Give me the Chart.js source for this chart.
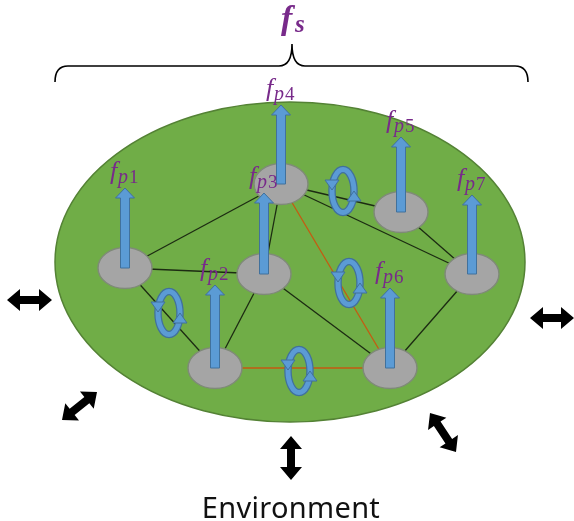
<!DOCTYPE html>
<html>
<head>
<meta charset="utf-8">
<script src="https://cdn.jsdelivr.net/npm/chart.js@4/dist/chart.umd.min.js"></script>
<style>
html, body { margin: 0; padding: 0; background: #fff; }
canvas { display: block; }
</style>
</head>
<body>
<canvas id="diagram" width="574" height="521"></canvas>
<script>
// node centres, in the 574 x 521 frame of the figure
let nodeX = [125, 215, 264, 281, 401, 390, 472];
let nodeY = [268, 368, 274, 184, 212, 368, 274];
// top of the force arrow standing on each node
let arrowTip = [188, 285, 193, 105, 137, 288, 195];
let arrowLabels = ['1', '2', '3', '4', '5', '6', '7'];
// links, as pairs of node indices
let blackLinks = [[0, 3], [0, 2], [0, 1], [2, 1], [2, 3], [2, 5], [3, 4], [3, 6], [4, 6], [6, 5]];
let redLinks = [[3, 5], [1, 5]];
// rotation rings
let ringX = [169, 343, 349, 299];
let ringY = [313, 191, 283, 371];
// system ellipse: cx, cy, rx, ry
let system = [290, 262, 235, 160];
// brace over the system: left, right, peak
let brace = [55, 528, 292];
// exchange with the environment (double arrows)
let envFrom = [[7, 300], [530, 318], [62, 420], [291, 436], [430, 413]];
let envTo = [[52, 300], [574, 318], [97, 392], [291, 480], [456, 452]];
let envLabel = 'Environment';

const purple = '#782a8a';

function linkSet(pairs, colour) {
    return pairs.map(([a, b]) => ({
        data: [{ x: nodeX[a], y: nodeY[a] }, { x: nodeX[b], y: nodeY[b] }],
        showLine: true,
        borderColor: colour,
        borderWidth: 1.3,
        pointRadius: 0
    }));
}

let figure = {
    id: 'figure',
    beforeDatasetsDraw(chart) {
        let ctx = chart.ctx, sx = chart.scales.x, sy = chart.scales.y;
        let X = v => sx.getPixelForValue(v), Y = v => sy.getPixelForValue(v);
        let k = X(1) - X(0);
        ctx.save();
        // green system body
        ctx.beginPath();
        ctx.ellipse(X(system[0]), Y(system[1]), system[2] * k, system[3] * k, 0, 0, Math.PI * 2);
        ctx.fillStyle = '#70ad47';
        ctx.fill();
        ctx.lineWidth = 1.5;
        ctx.strokeStyle = '#548235';
        ctx.stroke();

        // brace
        let yb = Y(66), yl = Y(82), yp = Y(44), r = 13 * k;
        ctx.beginPath();
        ctx.moveTo(X(brace[0]), yl);
        ctx.quadraticCurveTo(X(brace[0]), yb, X(brace[0]) + r, yb);
        ctx.lineTo(X(brace[2]) - r, yb);
        ctx.quadraticCurveTo(X(brace[2]), yb, X(brace[2]), yp);
        ctx.quadraticCurveTo(X(brace[2]), yb, X(brace[2]) + r, yb);
        ctx.lineTo(X(brace[1]) - r, yb);
        ctx.quadraticCurveTo(X(brace[1]), yb, X(brace[1]), yl);
        ctx.lineWidth = 1.6;
        ctx.strokeStyle = '#000';
        ctx.stroke();

        // f_s
        ctx.fillStyle = purple;
        ctx.textBaseline = 'alphabetic';
        ctx.font = 'bold italic 34px "Liberation Serif"';
        ctx.fillText('f', X(281), Y(29));
        ctx.font = 'bold italic 25px "Liberation Serif"';
        ctx.fillText('s', X(295), Y(32));

        // environment arrows
        ctx.fillStyle = '#000';
        envFrom.forEach((p, i) => {
            let x1 = X(p[0]), y1 = Y(p[1]), x2 = X(envTo[i][0]), y2 = Y(envTo[i][1]);
            let len = Math.hypot(x2 - x1, y2 - y1), a = Math.atan2(y2 - y1, x2 - x1);
            let h = 13 * k, hw = 11 * k, sw = 4 * k;
            ctx.save();
            ctx.translate(x1, y1);
            ctx.rotate(a);
            ctx.beginPath();
            ctx.moveTo(0, 0);
            ctx.lineTo(h, -hw);
            ctx.lineTo(h, -sw);
            ctx.lineTo(len - h, -sw);
            ctx.lineTo(len - h, -hw);
            ctx.lineTo(len, 0);
            ctx.lineTo(len - h, hw);
            ctx.lineTo(len - h, sw);
            ctx.lineTo(h, sw);
            ctx.lineTo(h, hw);
            ctx.closePath();
            ctx.fill();
            ctx.restore();
        });

        ctx.fillStyle = '#111';
        ctx.font = '29px "Noto Sans"';
        ctx.letterSpacing = '0.3px';
        ctx.textAlign = 'center';
        ctx.fillText(envLabel, X(291), Y(518));
        ctx.restore();
    },
    afterDatasetsDraw(chart) {
        let ctx = chart.ctx, sx = chart.scales.x, sy = chart.scales.y;
        let X = v => sx.getPixelForValue(v), Y = v => sy.getPixelForValue(v);
        let k = X(1) - X(0);
        ctx.save();
        // nodes
        nodeX.forEach((nx, i) => {
            ctx.beginPath();
            ctx.ellipse(X(nx), Y(nodeY[i]), 27 * k, 20.5 * k, 0, 0, Math.PI * 2);
            ctx.fillStyle = '#a5a5a5';
            ctx.fill();
            ctx.lineWidth = 1.5;
            ctx.strokeStyle = '#7f8a78';
            ctx.stroke();
        });
        // force arrows
        nodeX.forEach((nx, i) => {
            let x = X(nx), yb = Y(nodeY[i]), yt = Y(arrowTip[i]);
            let sw = 4.5 * k, hw = 9.5 * k, h = 10 * k;
            ctx.beginPath();
            ctx.moveTo(x - sw, yb);
            ctx.lineTo(x - sw, yt + h);
            ctx.lineTo(x - hw, yt + h);
            ctx.lineTo(x, yt);
            ctx.lineTo(x + hw, yt + h);
            ctx.lineTo(x + sw, yt + h);
            ctx.lineTo(x + sw, yb);
            ctx.closePath();
            ctx.fillStyle = '#5b9bd5';
            ctx.fill();
            ctx.lineWidth = 1;
            ctx.strokeStyle = '#41719c';
            ctx.stroke();
        });
        // rotation rings
        ringX.forEach((rx, i) => {
            let x = X(rx), y = Y(ringY[i]);
            ctx.beginPath();
            ctx.ellipse(x, y, 11 * k, 21.5 * k, 0, 0, Math.PI * 2);
            ctx.lineWidth = 7.5 * k;
            ctx.strokeStyle = '#41719c';
            ctx.stroke();
            ctx.lineWidth = 5 * k;
            ctx.strokeStyle = '#5b9bd5';
            ctx.stroke();
            ctx.fillStyle = '#5b9bd5';
            ctx.strokeStyle = '#41719c';
            ctx.lineWidth = 1;
            // head on the left going down, head on the right going up
            let heads = [[x - 11 * k, y - 7 * k, 1], [x + 11 * k, y + 6 * k, -1]];
            heads.forEach(([hx, hy, d]) => {
                ctx.beginPath();
                ctx.moveTo(hx - 7 * k, hy - 4 * d * k);
                ctx.lineTo(hx + 7 * k, hy - 4 * d * k);
                ctx.lineTo(hx, hy + 6 * d * k);
                ctx.closePath();
                ctx.fill();
                ctx.stroke();
            });
        });
        // arrow labels f_pN
        ctx.fillStyle = purple;
        ctx.textBaseline = 'alphabetic';
        nodeX.forEach((nx, i) => {
            let x = X(nx - 15), y = Y(arrowTip[i] - 9);
            ctx.font = 'italic 26px "Liberation Serif"';
            ctx.fillText('f', x, y);
            ctx.font = 'italic 20px "Liberation Serif"';
            ctx.fillText('p', x + 8 * k, y + 4 * k);
            ctx.font = '19px "Liberation Serif"';
            ctx.fillText(arrowLabels[i], x + 19 * k, y + 4 * k);
        });
        ctx.restore();
    }
};

new Chart(document.getElementById('diagram').getContext('2d'), {
    type: 'scatter',
    data: {
        datasets: linkSet(blackLinks, '#1c2b12').concat(linkSet(redLinks, '#c55a11'))
    },
    options: {
        responsive: false,
        animation: false,
        devicePixelRatio: 1,
        layout: { padding: 0 },
        events: [],
        scales: {
            x: { type: 'linear', min: 0, max: 574, display: false },
            y: { type: 'linear', min: 0, max: 521, reverse: true, display: false }
        },
        plugins: { legend: { display: false }, tooltip: { enabled: false } }
    },
    plugins: [figure]
});
</script>
</body>
</html>
